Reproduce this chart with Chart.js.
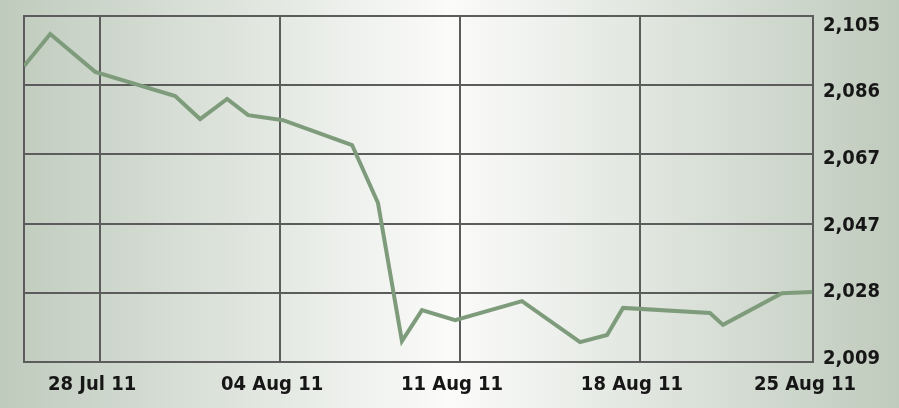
<!DOCTYPE html>
<html><head><meta charset="utf-8">
<script src="https://cdn.jsdelivr.net/npm/chart.js@4"></script>
<style>html,body{margin:0;padding:0;background:#e3e9e2;}canvas{display:block;}</style>
</head><body>
<canvas id="c" width="899" height="408"></canvas>
<script>
// Days relative to 28 Jul 11 (0 = 28 Jul)
const xDays = [-2.96, -1.94, -0.19, 2.92, 3.89, 4.94, 5.76, 7.12, 9.80, 10.81, 11.74, 12.52, 13.81, 16.41, 18.67, 19.72, 20.34, 23.72, 24.23, 26.52, 27.70];
const indexValues = [2091.1, 2100.0, 2089.5, 2082.8, 2076.4, 2082.0, 2077.5, 2076.1, 2069.2, 2053.1, 2014.8, 2023.4, 2020.6, 2025.9, 2014.5, 2016.5, 2024.0, 2022.6, 2019.3, 2028.1, 2028.4];
const xMin = -2.96, xMax = 27.73;
const xTickDays = [0, 7, 14, 21, 27.73];
const xTickLabels = ['28 Jul 11', '04 Aug 11', '11 Aug 11', '18 Aug 11', '25 Aug 11'];
const yMin = 2009, yMax = 2105;
const yTickValues = [2009, 2028.2, 2047.4, 2066.6, 2085.8, 2105];
const yTickLabels = ['2,009', '2,028', '2,047', '2,067', '2,086', '2,105'];

const FONT = '"Liberation Sans Narrow", "DejaVu Sans Condensed", "Liberation Sans", sans-serif';
const GRID = '#5c5c5c';

const bgPlugin = {
  id: 'bg',
  beforeDraw(chart) {
    const {ctx, width, height} = chart;
    const g = ctx.createLinearGradient(0, 0, width, 0);
    g.addColorStop(0, '#bfcbbd');
    g.addColorStop(0.5, '#fbfbfa');
    g.addColorStop(1, '#bfcbbd');
    ctx.save();
    ctx.fillStyle = g;
    ctx.fillRect(0, 0, width, height);
    ctx.restore();
  }
};
const framePlugin = {
  id: 'frame',
  beforeDatasetsDraw(chart) {
    const {ctx, chartArea: a} = chart;
    ctx.save();
    ctx.strokeStyle = GRID;
    ctx.lineWidth = 2;
    ctx.strokeRect(a.left, a.top, a.right - a.left, a.bottom - a.top);
    ctx.restore();
  }
};

new Chart(document.getElementById('c'), {
  type: 'line',
  data: {
    datasets: [{
      data: xDays.map((d, i) => ({x: d, y: indexValues[i]})),
      borderColor: '#7e9c7c',
      borderWidth: 4,
      pointRadius: 0,
      tension: 0,
      fill: false,
      borderJoinStyle: 'miter'
    }]
  },
  options: {
    responsive: false,
    animation: false,
    devicePixelRatio: 1,
    layout: {padding: {left: 24, top: 16, right: 0, bottom: 0}},
    plugins: {legend: {display: false}, tooltip: {enabled: false}},
    scales: {
      x: {
        type: 'linear', position: 'bottom', min: xMin, max: xMax,
        afterBuildTicks: s => { s.ticks = xTickDays.map(v => ({value: v})); },
        afterFit: s => { s.height = 46; s.paddingLeft = 0; s.paddingRight = 0; },
        ticks: {
          callback: (v, i) => xTickLabels[i],
          font: {family: FONT, size: 20, weight: 'bold'},
          color: '#161616', padding: 11, labelOffset: -8,
          maxRotation: 0, autoSkip: false
        },
        grid: {color: GRID, lineWidth: 2, drawTicks: false},
        border: {display: false}
      },
      y: {
        type: 'linear', position: 'right', min: yMin, max: yMax,
        afterBuildTicks: s => { s.ticks = yTickValues.map(v => ({value: v})); },
        afterFit: s => { s.width = 0; s.paddingTop = 0; s.paddingBottom = 0; },
        ticks: {display: false},
        grid: {color: GRID, lineWidth: 2, drawTicks: false},
        border: {display: false}
      },
      yl: {
        type: 'linear', position: 'right', min: 2007.99, max: 2107.74,
        afterBuildTicks: s => { s.ticks = yTickValues.map(v => ({value: v})); },
        afterFit: s => { s.width = 86; s.paddingTop = 0; s.paddingBottom = 0; },
        ticks: {
          callback: (v, i) => yTickLabels[i],
          font: {family: FONT, size: 20, weight: 'bold'},
          color: '#161616', padding: 10
        },
        grid: {display: false, drawTicks: false},
        border: {display: false}
      }
    }
  },
  plugins: [bgPlugin, framePlugin]
});
</script>
</body></html>
